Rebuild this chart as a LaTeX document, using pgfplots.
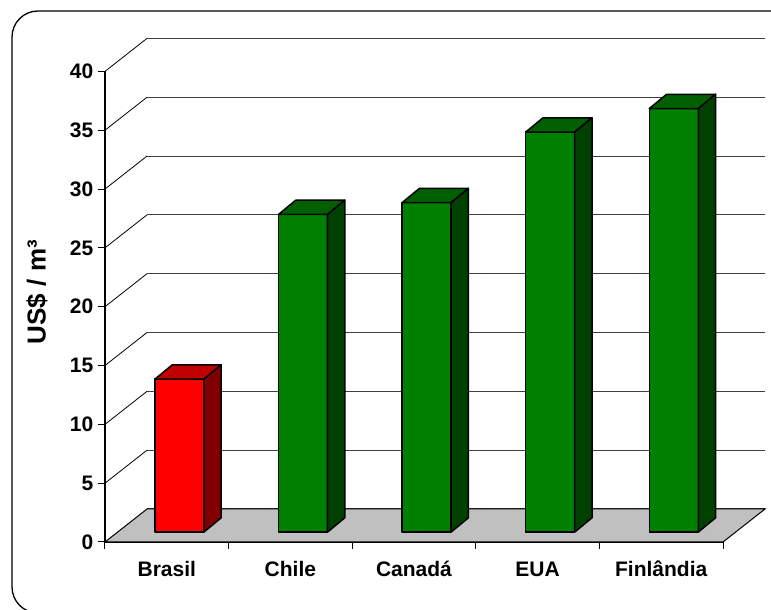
\documentclass[border=0pt]{standalone}
\usepackage{fontspec}
\setmainfont{Liberation Sans}
\usepackage{pgfplots}
\pgfplotsset{compat=1.18}
\usepackage{pgfplotstable}

\definecolor{redfront}{HTML}{FF0000}
\definecolor{redtop}{HTML}{C00000}
\definecolor{redside}{HTML}{800000}
\definecolor{grnfront}{HTML}{008000}
\definecolor{grntop}{HTML}{006000}
\definecolor{grnside}{HTML}{004000}
\definecolor{floorgray}{HTML}{C0C0C0}

\pgfdeclareplotmark{nothing}{}

% custo por m3
\pgfplotstableread{
x v
0.5 13
}\brasil
\pgfplotstableread{
x v
1.5 27
2.5 28
3.5 34
4.5 36
}\outros

% 3D column drawn around each data point (front plane at the point)
\pgfplotsset{
  cube/.style n args={3}{
    scatter, only marks, mark=nothing,
    visualization depends on={\thisrow{v} \as \val},
    scatter/@pre marker code/.code={%
      \pgfmathsetmacro\hh{\val*5.8825}%
      \filldraw[fill=#1, draw=black, line width=0.75pt, line join=round]
        (-5.95pt,{4.95pt-\hh pt}) rectangle (18.55pt,4.95pt);
      \filldraw[fill=#2, draw=black, line width=0.75pt, line join=round]
        (-5.95pt,4.95pt) -- (18.55pt,4.95pt) -- (27.2pt,12.1pt) -- (2.7pt,12.1pt) -- cycle;
      \filldraw[fill=#3, draw=black, line width=0.75pt, line join=round]
        (18.55pt,4.95pt) -- (27.2pt,12.1pt) -- (27.2pt,{12.1pt-\hh pt}) -- (18.55pt,{4.95pt-\hh pt}) -- cycle;
    },
    scatter/@post marker code/.code={},
  },
}

\begin{document}
\begin{tikzpicture}
\useasboundingbox (-52.5pt,-34pt) rectangle (333pt,271pt);
\begin{scope}
  \clip (-52.5pt,-34pt) rectangle (333pt,271pt);
  \draw[line width=0.65pt, rounded corners=13pt] (-46.5pt,-35.5pt) rectangle (346pt,265.5pt);
\end{scope}
\begin{axis}[
    width=309pt, height=235.3pt, scale only axis,
    xmin=0, xmax=5, ymin=0, ymax=40,
    clip=false,
    axis x line*=bottom, axis y line*=left,
    axis line style={black, line width=0.6pt},
    tick align=outside, major tick length=3.5pt,
    tick style={black, line width=0.5pt},
    ytick={0,5,...,40},
    xtick={0,...,5}, xticklabels={},
    extra x ticks={0.5,1.5,2.5,3.5,4.5},
    extra x tick labels={Brasil,Chile,Canadá,EUA,Finlândia},
    extra x tick style={major tick length=0pt,
      xticklabel style={anchor=base, yshift=-17.35pt}},
    /pgf/number format/assume math mode=true,
    ticklabel style={font=\bfseries\fontsize{10.5}{12}\selectfont},
    yticklabel style={anchor=east, inner sep=0pt, xshift=-2.2pt},
    ymajorgrids=true,
    grid style={black!75, line width=0.5pt, xshift=21pt, yshift=16.5pt},
    ylabel={US\$ / m³},
    every axis y label/.style={at={(axis description cs:-0.110,0.531)},
      rotate=90, anchor=center, font=\bfseries\fontsize{13}{15}\selectfont},
  ]
  % floor
  \filldraw[fill=floorgray, draw=black, line width=0.5pt]
    (axis cs:0,0) -- (axis cs:5,0) -- ++(21pt,16.5pt) -- ++(-309pt,0pt) -- cycle;
  % side wall grid
  \pgfplotsinvokeforeach{5,10,...,40}{
    \draw[black, line width=0.4pt] (axis cs:0,#1) -- ++(21pt,16.5pt);
  }
  \addplot[cube={redfront}{redtop}{redside}] table[x=x,y=v]{\brasil};
  \addplot[cube={grnfront}{grntop}{grnside}] table[x=x,y=v]{\outros};
\end{axis}
\end{tikzpicture}
\end{document}
